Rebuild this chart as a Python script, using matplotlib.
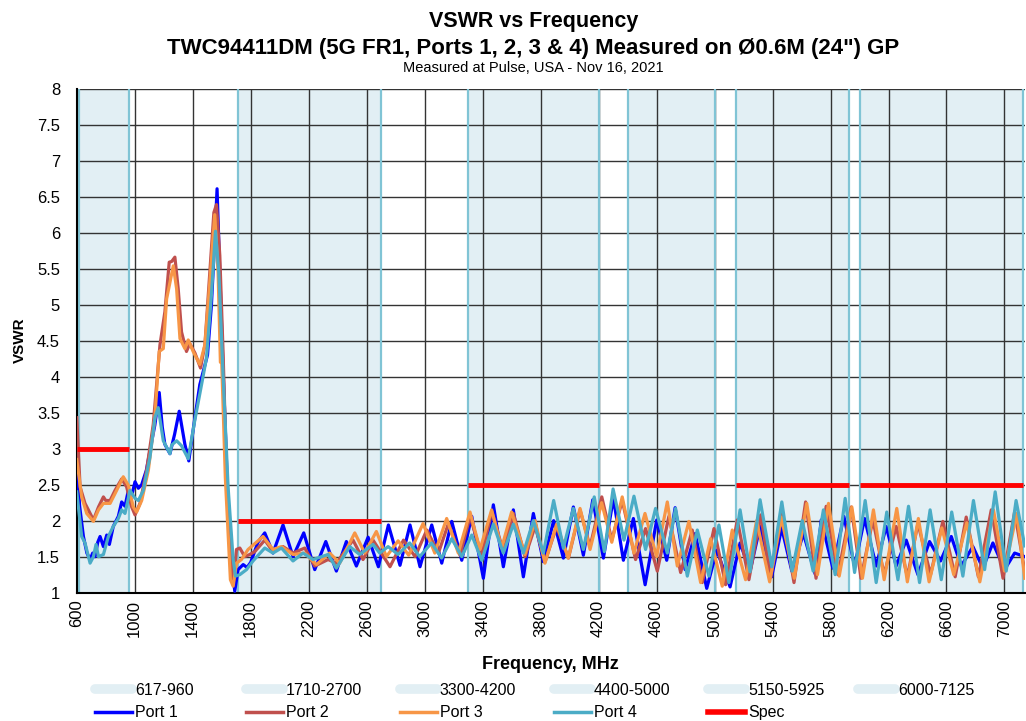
import matplotlib
matplotlib.use("Agg")
import matplotlib.pyplot as plt
from matplotlib.lines import Line2D

plt.rcParams['font.family'] = ['Liberation Sans', 'DejaVu Sans']

# frequency bands (MHz) and spec limits
bands = [(617, 960), (1710, 2700), (3300, 4200), (4400, 5000), (5150, 5925), (6000, 7125)]
band_labels = ['617-960', '1710-2700', '3300-4200', '4400-5000', '5150-5925', '6000-7125']
spec_start = [600, 1710, 3300, 4400, 5150, 6000]
spec_stop = [960, 2700, 4200, 5000, 5925, 7125]
spec_value = [3.0, 2.0, 2.5, 2.5, 2.5, 2.5]

# Port 1
p1_f = [600, 620, 646, 670, 692, 710, 726, 745, 761, 784, 807, 825, 852, 887, 910, 933, 956, 979,
        1002, 1025, 1048, 1080, 1105, 1139, 1169, 1190, 1208, 1243, 1275, 1307, 1346, 1373, 1415,
        1449, 1502, 1529, 1552, 1568, 1587, 1610, 1644, 1674, 1690, 1713, 1748, 1775, 1800, 1850,
        1897, 1954, 2023, 2092, 2166, 2242, 2318, 2391, 2460, 2529, 2610, 2681, 2750, 2830, 2899,
        2968, 3049, 3118, 3187, 3256, 3325, 3405, 3474, 3543, 3612, 3681, 3750, 3819, 3890, 3957,
        4026, 4095, 4160, 4233, 4302, 4371, 4440, 4521, 4601, 4670, 4728, 4797, 4866, 4946, 5015,
        5107, 5176, 5245, 5314, 5394, 5463, 5533, 5613, 5694, 5736, 5816, 5892, 5966, 6035, 6115,
        6184, 6253, 6322, 6403, 6483, 6559, 6633, 6702, 6782, 6851, 6920, 7001, 7070, 7140]
p1_v = [2.80, 2.20, 1.78, 1.55, 1.46, 1.55, 1.50, 1.70, 1.78, 1.64, 1.80, 1.67, 1.92, 2.06, 2.26, 2.20,
        2.42, 2.35, 2.54, 2.45, 2.50, 2.70, 2.97, 3.33, 3.78, 3.30, 3.06, 2.93, 3.20, 3.52, 3.06, 2.83,
        3.43, 3.89, 4.30, 4.99, 5.91, 6.61, 5.45, 4.07, 2.24, 1.32, 1.02, 1.32, 1.39, 1.35, 1.42, 1.70,
        1.83, 1.55, 1.94, 1.50, 1.83, 1.32, 1.71, 1.30, 1.71, 1.37, 1.77, 1.36, 1.94, 1.38, 1.94,
        1.36, 1.94, 1.41, 1.99, 1.45, 2.06, 1.20, 2.22, 1.36, 2.15, 1.22, 2.10, 1.43, 2.00, 1.48,
        2.19, 1.52, 2.29, 1.48, 2.31, 1.45, 2.03, 1.11, 2.01, 1.45, 2.18, 1.32, 1.82, 1.06, 1.59,
        1.08, 1.69, 1.30, 1.92, 1.22, 1.90, 1.30, 1.82, 1.26, 2.01, 1.34, 2.06, 1.37, 2.03, 1.37,
        1.92, 1.37, 1.73, 1.25, 1.71, 1.44, 1.78, 1.37, 1.64, 1.34, 1.69, 1.32, 1.55, 1.50]

# Port 2
p2_f = [600, 623, 657, 680, 715, 750, 784, 800, 830, 864, 910, 944, 979, 1002, 1036, 1082, 1128, 1174,
        1208, 1238, 1255, 1277, 1300, 1323, 1357, 1380, 1415, 1454, 1484, 1518, 1546, 1564, 1587,
        1610, 1633, 1656, 1679, 1702, 1725, 1759, 1793, 1828, 1897, 1954, 2023, 2092, 2173, 2242,
        2334, 2391, 2506, 2575, 2644, 2761, 2854, 2934, 3015, 3095, 3164, 3244, 3313, 3394, 3463,
        3543, 3612, 3693, 3762, 3831, 3910, 3992, 4072, 4141, 4222, 4291, 4363, 4455, 4524, 4605,
        4685, 4766, 4846, 4915, 4996, 5076, 5157, 5237, 5318, 5387, 5467, 5548, 5628, 5700, 5770,
        5851, 5943, 6010, 6092, 6170, 6253, 6330, 6403, 6490, 6575, 6660, 6736, 6820, 6909, 6990,
        7070, 7140]
p2_v = [3.43, 2.47, 2.24, 2.15, 2.01, 2.19, 2.33, 2.28, 2.28, 2.42, 2.58, 2.47, 2.19, 2.08, 2.24, 2.70,
        3.34, 4.44, 4.90, 5.59, 5.60, 5.66, 5.22, 4.62, 4.35, 4.46, 4.33, 4.12, 4.44, 5.45, 6.28, 6.39,
        5.68, 4.30, 2.70, 1.64, 1.11, 1.60, 1.62, 1.50, 1.53, 1.57, 1.73, 1.57, 1.64, 1.55, 1.62, 1.37,
        1.46, 1.41, 1.73, 1.46, 1.73, 1.36, 1.73, 1.50, 1.87, 1.55, 1.96, 1.52, 2.06, 1.52, 2.13,
        1.57, 2.10, 1.50, 1.92, 1.43, 1.92, 1.48, 2.15, 1.64, 2.33, 1.73, 2.28, 1.46, 1.89, 1.30,
        2.06, 1.28, 1.87, 1.14, 1.89, 1.11, 2.01, 1.18, 2.08, 1.21, 2.10, 1.14, 2.26, 1.20, 2.20,
        1.25, 2.19, 1.20, 2.01, 1.25, 1.92, 1.22, 1.96, 1.25, 1.99, 1.22, 2.05, 1.22, 2.15, 1.20,
        2.12, 1.30]

# Port 3
p3_f = [600, 634, 669, 715, 750, 784, 830, 875, 921, 956, 990, 1013, 1048, 1094, 1139, 1169, 1197,
        1220, 1243, 1266, 1289, 1312, 1346, 1369, 1403, 1449, 1484, 1518, 1552, 1575, 1591, 1600,
        1625, 1660, 1679, 1702, 1736, 1782, 1885, 1954, 2012, 2092, 2173, 2253, 2345, 2414, 2518,
        2587, 2667, 2736, 2817, 2890, 2989, 3070, 3152, 3232, 3313, 3382, 3462, 3531, 3600, 3692,
        3762, 3830, 3910, 3991, 4072, 4141, 4221, 4291, 4363, 4444, 4520, 4600, 4674, 4743, 4823,
        4904, 4973, 5053, 5122, 5214, 5290, 5380, 5460, 5550, 5636, 5710, 5786, 5860, 5947, 6020,
        6096, 6170, 6257, 6330, 6406, 6480, 6568, 6650, 6740, 6830, 6924, 7000, 7085, 7140]
p3_v = [2.85, 2.33, 2.10, 1.99, 2.15, 2.24, 2.24, 2.42, 2.61, 2.49, 2.19, 2.12, 2.28, 2.70, 3.43, 4.35,
        4.39, 5.08, 5.31, 5.54, 5.22, 4.53, 4.39, 4.51, 4.35, 4.17, 4.44, 5.31, 6.25, 5.45, 4.20, 4.20,
        2.60, 1.18, 1.09, 1.41, 1.46, 1.60, 1.78, 1.60, 1.64, 1.53, 1.55, 1.39, 1.55, 1.41, 1.83,
        1.55, 1.85, 1.50, 1.72, 1.52, 1.96, 1.55, 2.03, 1.55, 2.12, 1.60, 2.15, 1.62, 2.12, 1.53,
        2.00, 1.41, 1.95, 1.48, 2.17, 1.60, 2.25, 1.70, 2.33, 1.55, 2.10, 1.50, 2.26, 1.37, 1.99,
        1.14, 1.75, 1.09, 1.87, 1.18, 2.00, 1.15, 2.05, 1.20, 2.24, 1.25, 2.24, 1.23, 2.19, 1.20,
        2.15, 1.18, 2.17, 1.15, 2.03, 1.15, 1.90, 1.25, 1.97, 1.15, 2.15, 1.30, 2.10, 1.20]

# Port 4
p4_f = [600, 634, 657, 692, 715, 733, 750, 784, 818, 852, 887, 910, 933, 967, 1002, 1025, 1059, 1105,
        1139, 1162, 1197, 1243, 1255, 1289, 1323, 1369, 1415, 1461, 1495, 1529, 1557, 1580, 1598,
        1610, 1644, 1679, 1695, 1725, 1771, 1816, 1897, 1954, 2012, 2092, 2161, 2230, 2334, 2391,
        2483, 2552, 2644, 2690, 2748, 2817, 2897, 2966, 3047, 3117, 3187, 3256, 3325, 3394, 3474,
        3543, 3612, 3681, 3750, 3819, 3890, 3957, 4026, 4095, 4170, 4240, 4300, 4375, 4444, 4524,
        4593, 4674, 4731, 4812, 4881, 4961, 5030, 5099, 5176, 5245, 5314, 5395, 5464, 5535, 5605,
        5680, 5751, 5832, 5901, 5966, 6039, 6115, 6188, 6265, 6338, 6414, 6487, 6564, 6636, 6713,
        6786, 6863, 6936, 7012, 7080, 7140]
p4_v = [2.40, 1.78, 1.69, 1.41, 1.50, 1.67, 1.50, 1.53, 1.78, 1.92, 2.03, 2.15, 2.10, 2.42, 2.31, 2.28,
        2.42, 2.88, 3.43, 3.57, 3.11, 2.93, 3.05, 3.11, 3.04, 2.86, 3.40, 3.89, 4.26, 5.13, 6.02, 5.45,
        4.58, 4.00, 2.47, 1.46, 1.23, 1.25, 1.32, 1.44, 1.62, 1.55, 1.62, 1.44, 1.55, 1.46, 1.53,
        1.34, 1.64, 1.53, 1.67, 1.55, 1.64, 1.53, 1.69, 1.50, 1.69, 1.48, 1.75, 1.50, 1.80, 1.45,
        1.95, 1.55, 1.95, 1.55, 2.00, 1.55, 2.28, 1.62, 2.17, 1.60, 2.33, 1.57, 2.44, 1.73, 2.34,
        1.60, 2.17, 1.55, 2.17, 1.23, 1.87, 1.23, 1.94, 1.14, 2.15, 1.29, 2.29, 1.36, 2.26, 1.30,
        2.00, 1.30, 2.15, 1.25, 2.31, 1.28, 2.28, 1.14, 2.12, 1.18, 2.20, 1.14, 2.15, 1.18, 2.12,
        1.23, 2.28, 1.32, 2.40, 1.30, 2.28, 1.65]

band_fill = '#E2EFF4'
band_edge = '#80C4D5'
port_colors = ['#0000FF', '#C0504D', '#F79646', '#4BACC6']
port_labels = ['Port 1', 'Port 2', 'Port 3', 'Port 4']

fig = plt.figure(figsize=(10.26, 7.21), dpi=100)
ax = fig.add_axes([0.0748, 0.178, 0.924, 0.699])

for lo, hi in bands:
    ax.axvspan(lo, hi, facecolor=band_fill, edgecolor='none', zorder=0.5)
    ax.axvline(lo, color=band_edge, lw=1.6, zorder=1.6)
    ax.axvline(hi, color=band_edge, lw=1.6, zorder=1.6)

for f, v, c in zip([p1_f, p2_f, p3_f, p4_f], [p1_v, p2_v, p3_v, p4_v], port_colors):
    ax.plot(f, v, color=c, lw=2.3, zorder=3)
for a, b, v in zip(spec_start, spec_stop, spec_value):
    ax.plot([a, b], [v, v], color='#FF0000', lw=3.5, zorder=4, solid_capstyle='butt')

ax.set_xlim(600, 7140)
ax.set_ylim(1, 8)
xt = list(range(600, 7001, 400))
ax.set_xticks(xt)
ax.set_xticklabels([str(t) for t in xt], rotation=90, fontsize=12)
yt = [1 + 0.5 * i for i in range(15)]
ax.set_yticks(yt)
ax.set_yticklabels(['%g' % t for t in yt], fontsize=12)
ax.tick_params(axis='x', length=0, pad=5)
ax.tick_params(axis='y', length=0, pad=12)
ax.grid(True, color='#333333', lw=1.0, zorder=1.5)
ax.set_axisbelow('line')
for s in ['top', 'right']:
    ax.spines[s].set_visible(False)
ax.spines['left'].set_linewidth(1.5)
ax.spines['bottom'].set_linewidth(1.5)

ax.set_xlabel('Frequency, MHz', fontsize=13, fontweight='bold', labelpad=14)
ax.set_ylabel('VSWR', fontsize=11, fontweight='bold', labelpad=7)

fig.text(0.52, 0.970, 'VSWR vs Frequency', ha='center', va='center', fontsize=15.5, fontweight='bold')
fig.text(0.52, 0.933, 'TWC94411DM (5G FR1, Ports 1, 2, 3 & 4) Measured on \u00d80.6M (24") GP',
         ha='center', va='center', fontsize=16, fontweight='bold')
fig.text(0.52, 0.906, 'Measured at Pulse, USA - Nov 16, 2021', ha='center', va='center', fontsize=10.5)

# legend: one small legend per column (band on top, port/spec below)
col_x = [95, 246, 400, 554, 708, 858]
lower_h = [Line2D([], [], color=c, lw=2.5) for c in port_colors] + [Line2D([], [], color='#FF0000', lw=4)]
lower_l = port_labels + ['Spec']
for i in range(6):
    hs = [Line2D([], [], color=band_fill, lw=7, solid_capstyle='round')]
    ls = [band_labels[i]]
    if i < 5:
        hs.append(lower_h[i])
        ls.append(lower_l[i])
    leg = fig.legend(hs, ls, loc='upper left', bbox_to_anchor=(col_x[i] / 1026, 1 - 683 / 721),
                     frameon=False, fontsize=11.5, handlelength=2.3, handletextpad=0.2,
                     borderpad=0, borderaxespad=0, labelspacing=0.45)

fig.savefig('out.png', dpi=100)
